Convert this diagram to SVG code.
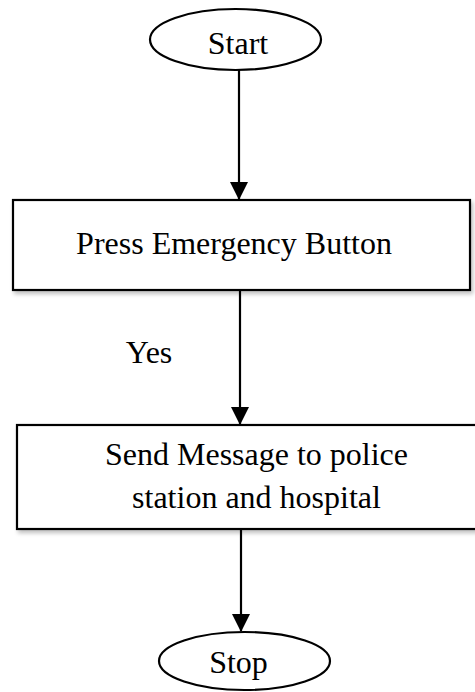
<svg xmlns="http://www.w3.org/2000/svg" width="475" height="692" viewBox="0 0 475 692">
<defs>
<style>
.shape{fill:#fff;stroke:#000;stroke-width:2.2}
.lbl{font-family:'Liberation Serif','DejaVu Serif','Times New Roman',Times,serif;font-size:32px;fill:#000;text-anchor:middle}
.conn{stroke:#000;stroke-width:2.2;fill:none}
</style>
<filter id="sh" x="-10%" y="-10%" width="130%" height="140%">
<feGaussianBlur in="SourceAlpha" stdDeviation="2"/>
<feOffset dx="2" dy="3"/>
<feComponentTransfer><feFuncA type="linear" slope="0.25"/></feComponentTransfer>
<feMerge><feMergeNode/><feMergeNode in="SourceGraphic"/></feMerge>
</filter>
<marker id="arr" markerUnits="userSpaceOnUse" markerWidth="18" markerHeight="20" refX="17" refY="9" orient="auto" viewBox="0 0 18 18">
<path d="M0,0 L18,9 L0,18 Z" fill="#000"/>
</marker>
</defs>
<g id="connectors">
<line class="conn" x1="239" y1="70" x2="239" y2="199" marker-end="url(#arr)"/>
<line class="conn" x1="240" y1="291" x2="240" y2="424" marker-end="url(#arr)"/>
<line class="conn" x1="241" y1="530" x2="241" y2="631" marker-end="url(#arr)"/>
</g>
<g id="start">
<ellipse class="shape" cx="235.5" cy="39.5" rx="85.5" ry="30.5"/>
<text class="lbl" font-family="Liberation Serif, serif" x="238" y="54">Start</text>
</g>
<g id="press">
<rect class="shape" x="13" y="200" width="457" height="90" filter="url(#sh)"/>
<text class="lbl" x="234" y="254">Press Emergency Button</text>
</g>
<g id="yes-label">
<text class="lbl" x="149" y="363">Yes</text>
</g>
<g id="send">
<rect class="shape" x="17" y="425" width="470" height="104" filter="url(#sh)"/>
<text class="lbl" x="256.5" y="465">Send Message to police</text>
<text class="lbl" x="256.5" y="508">station and hospital</text>
</g>
<g id="stop">
<ellipse class="shape" cx="244.5" cy="661" rx="85.5" ry="29"/>
<text class="lbl" x="238.5" y="673">Stop</text>
</g>
</svg>
